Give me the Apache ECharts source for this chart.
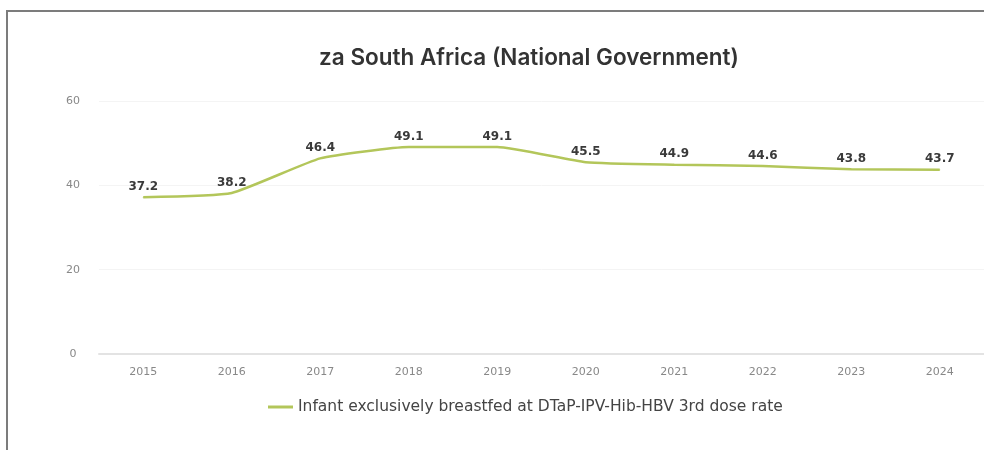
<!DOCTYPE html>
<html>
<head>
<meta charset="utf-8">
<script src="https://cdn.jsdelivr.net/npm/echarts@6/dist/echarts.min.js"></script>
<style>
  html, body { margin: 0; padding: 0; background: #fff; }
  #wrap { position: relative; width: 984px; height: 450px; overflow: hidden; }
  #frame { position: absolute; left: 6px; top: 10px; right: -10px; bottom: -10px;
           border-left: 2px solid #7c7c7c; border-top: 2px solid #7c7c7c; pointer-events: none; }
  #chart { position: absolute; left: 0; top: 0; width: 984px; height: 450px; }
</style>
</head>
<body>
<div id="wrap">
  <div id="chart"></div>
  <div id="frame"></div>
</div>
<script>
// Yearly values for the national series
const years = ['2015', '2016', '2017', '2018', '2019', '2020', '2021', '2022', '2023', '2024'];
const breastfedRate = [37.2, 38.2, 46.4, 49.1, 49.1, 45.5, 44.9, 44.6, 43.8, 43.7];
const seriesName = 'Infant exclusively breastfed at DTaP-IPV-Hib-HBV 3rd dose rate';
const chartTitle = 'za South Africa (National Government)';
const yTicks = [0, 20, 40, 60];

const chart = echarts.init(document.getElementById('chart'), null, { renderer: 'canvas' });

chart.setOption({
  animation: false,
  backgroundColor: '#ffffff',
  title: {
    text: chartTitle,
    left: 524,
    top: 42,
    textAlign: 'center',
    textStyle: {
      fontFamily: 'Inter',
      fontSize: 22.5,
      fontWeight: 600,
      color: '#333333'
    }
  },
  legend: {
    data: [seriesName],
    left: 263,
    top: 394,
    icon: 'rect',
    itemWidth: 25,
    itemHeight: 3,
    itemGap: 6,
    textStyle: {
      fontFamily: 'DejaVu Sans',
      fontSize: 15.5,
      color: '#444444'
    }
  },
  grid: {
    left: 99,
    right: -4,
    top: 101,
    bottom: 96,
    containLabel: false
  },
  xAxis: {
    type: 'category',
    data: years,
    boundaryGap: true,
    axisLine: { show: true, lineStyle: { color: '#e3e3e3', width: 2 } },
    axisTick: { show: false },
    axisLabel: {
      margin: 13,
      fontFamily: 'DejaVu Sans',
      fontSize: 11,
      color: '#888888'
    },
    splitLine: { show: false }
  },
  yAxis: {
    type: 'value',
    min: yTicks[0],
    max: yTicks[yTicks.length - 1],
    interval: 20,
    axisLine: { show: false },
    axisTick: { show: false },
    axisLabel: {
      margin: 26,
      align: 'center',
      fontFamily: 'DejaVu Sans',
      fontSize: 11,
      color: '#888888'
    },
    splitLine: { show: true, lineStyle: { color: '#f4f4f4', width: 1 } }
  },
  series: [{
    name: seriesName,
    type: 'line',
    data: breastfedRate,
    smooth: 0.15,
    showSymbol: true,
    symbol: 'circle',
    symbolSize: 1,
    lineStyle: { color: '#b3c65a', width: 2.5 },
    itemStyle: { color: '#b3c65a' },
    label: {
      show: true,
      position: 'top',
      distance: 4,
      fontFamily: 'DejaVu Sans',
      fontSize: 12,
      fontWeight: 'bold',
      color: '#3a3a3a',
      formatter: p => p.value.toFixed(1)
    }
  }]
});
</script>
</body>
</html>
